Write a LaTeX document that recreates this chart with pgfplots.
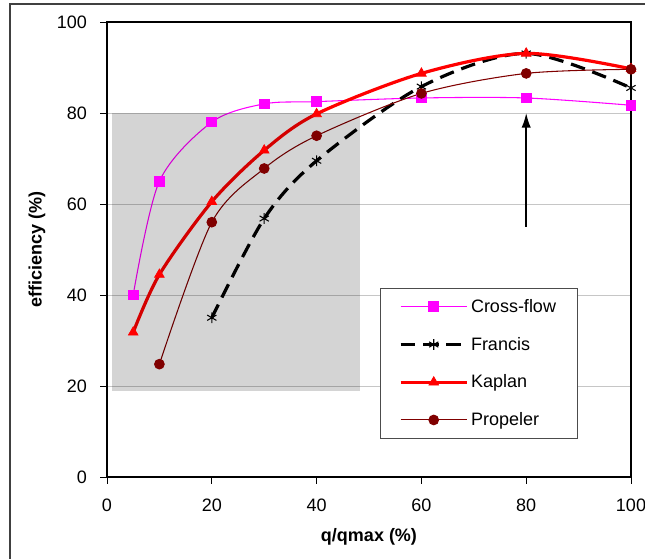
\documentclass[border=0pt]{standalone}
\usepackage{fontspec}
\setmainfont{Liberation Sans}
\usepackage{pgfplots}
\pgfplotsset{compat=1.18}
\usetikzlibrary{arrows.meta}
\definecolor{cfmag}{RGB}{255,0,255}
\definecolor{kred}{RGB}{255,0,0}
\definecolor{pdark}{RGB}{128,0,0}
\begin{document}
\begin{tikzpicture}
\useasboundingbox (-80.25pt,-61.5pt) rectangle (403.5pt,357.75pt);
\draw[black!75, line width=0.8pt] (-72.75pt,-70pt) -- (-72.75pt,354.75pt) -- (410pt,354.75pt);
\begin{axis}[
  at={(0pt,0pt)}, anchor=south west,
  scale only axis, width=393pt, height=341.25pt,
  xmin=0, xmax=100, ymin=0, ymax=100,
  xtick={0,20,...,100}, ytick={0,20,...,100},
  tick align=outside, major tick length=5pt,
  xtick pos=bottom, ytick pos=left,
  ymajorgrids, grid style={gray!45, line width=0.6pt},
  axis line style={black, line width=0.9pt},
  tick style={black, line width=0.7pt},
  /pgf/number format/assume math mode=true,
  tick label style={font=\fontsize{13.5}{15}\selectfont},
  xticklabel style={yshift=-8pt},
  yticklabel style={xshift=-6.5pt},
  label style={font=\bfseries\fontsize{13.5}{15}\selectfont},
  xlabel={q/qmax (\%)},
  ylabel={efficiency (\%)},
  xlabel style={at={(axis description cs:0.5,0)}, anchor=center, yshift=-45pt},
  ylabel style={at={(axis description cs:-0.1336,0.5)}, anchor=center},
  clip=false,
  legend style={at={(0.521,0.415)}, anchor=north west, draw=black!70, line width=0.7pt, fill=white,
    font=\fontsize{13.5}{15}\selectfont, row sep=13pt, inner xsep=14pt, inner ysep=6pt,
    /tikz/every even column/.append style={column sep=2pt}},
  legend cell align=left,
  legend image code/.code={\draw[mark repeat=2, mark phase=2] plot coordinates {(0pt,0pt) (24.75pt,0pt) (49.5pt,0pt)};},
]
\addplot[cfmag, line width=0.8pt, smooth, tension=0.5, mark=square*, mark size=3.6pt, mark options={solid, fill=cfmag}]
  coordinates {(5,40) (10,65) (20,78) (30,82) (40,82.5) (60,83.3) (80,83.3) (100,81.7)};
\addlegendentry{Cross-flow}
\addplot[black, line width=2.4pt, dash pattern=on 11pt off 6pt, smooth, tension=0.5, mark=asterisk, mark size=4pt, mark options={solid, line width=0.8pt}]
  coordinates {(20,35) (30,56.8) (40,69.5) (60,85.8) (80,93.1) (100,85.5)};
\addlegendentry{Francis}
\addplot[kred, line width=2.4pt, smooth, tension=0.5, mark=triangle*, mark size=4.2pt, mark options={solid, line width=0.5pt, fill=kred}]
  coordinates {(5,31.8) (10,44.5) (20,60.5) (30,71.8) (40,79.8) (60,88.7) (80,93.1) (100,89.7)};
\addlegendentry{Kaplan}
\addplot[pdark, line width=0.8pt, smooth, tension=0.5, mark=*, mark size=3.6pt, mark options={solid, fill=pdark}]
  coordinates {(10,24.8) (20,56) (30,67.8) (40,75) (60,84.3) (80,88.7) (100,89.6)};
\addlegendentry{Propeler}
\fill[black, opacity=0.17] (axis cs:1,19) rectangle (axis cs:48.3,80);
\draw[black, line width=1.2pt, -{Latex[length=11pt,width=7pt]}] (axis cs:80,55) -- (axis cs:80,80);
\end{axis}
\end{tikzpicture}
\end{document}
